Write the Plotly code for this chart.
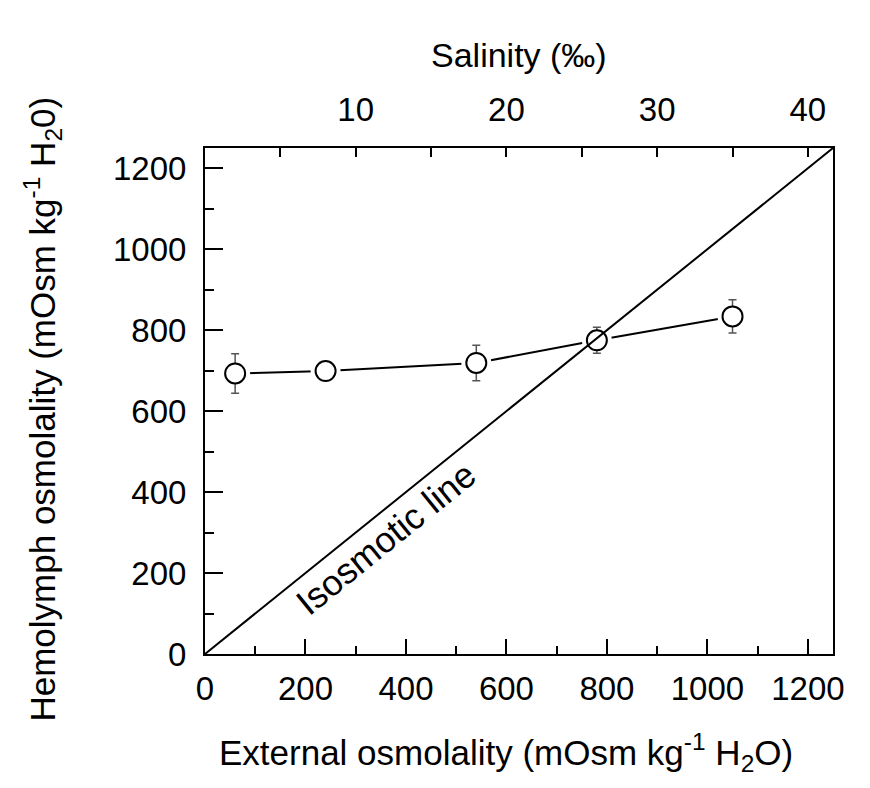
import plotly.graph_objects as go

# Data
external_osm = [60, 240, 540, 780, 1050]
hemolymph_osm = [693, 699, 719, 775, 834]
hemolymph_err = [49, 8, 44, 32, 41]
iso_x = [0, 1250]
iso_y = [0, 1250]
x_ticks = [0, 200, 400, 600, 800, 1000, 1200]
x_minor = [100, 300, 500, 700, 900, 1100]
y_ticks = [0, 200, 400, 600, 800, 1000, 1200]
y_minor = [100, 300, 500, 700, 900, 1100]
sal_ticks = [10, 20, 30, 40]
sal_minor = [5, 15, 25, 35]
mosm_per_ppt = 30.0

FONT = "Arial, Liberation Sans, sans-serif"
fig = go.Figure()

# connecting line
fig.add_trace(go.Scatter(x=external_osm, y=hemolymph_osm, mode="lines",
                         line=dict(color="black", width=2), hoverinfo="skip", showlegend=False))
# gap markers (white halo around circles)
fig.add_trace(go.Scatter(x=external_osm, y=hemolymph_osm, mode="markers",
                         marker=dict(size=30, color="white", line=dict(width=0)),
                         hoverinfo="skip", showlegend=False))
# error bars
fig.add_trace(go.Scatter(x=external_osm, y=hemolymph_osm, mode="markers",
                         marker=dict(size=1, color="white"),
                         error_y=dict(type="data", array=hemolymph_err, visible=True,
                                      color="#555555", thickness=1.5, width=4),
                         hoverinfo="skip", showlegend=False))
# white inner fill to hide error bar inside circles
fig.add_trace(go.Scatter(x=external_osm, y=hemolymph_osm, mode="markers",
                         marker=dict(size=20, color="white", line=dict(width=0)),
                         hoverinfo="skip", showlegend=False))
# isosmotic line
fig.add_trace(go.Scatter(x=iso_x, y=iso_y, mode="lines",
                         line=dict(color="black", width=2), hoverinfo="skip", showlegend=False))
# open circles
fig.add_trace(go.Scatter(x=external_osm, y=hemolymph_osm, mode="markers",
                         marker=dict(size=20, color="rgba(0,0,0,0)", symbol="circle",
                                     line=dict(color="black", width=2)),
                         showlegend=False))
# dummy trace for top axis
fig.add_trace(go.Scatter(x=[0], y=[0], xaxis="x2", mode="markers",
                         marker=dict(size=0, opacity=0), hoverinfo="skip", showlegend=False))

fig.add_annotation(x=360, y=285, text="Isosmotic line", showarrow=False, textangle=-39,
                   font=dict(family=FONT, size=36, color="black"))

# axis titles as annotations
fig.add_annotation(x=0.5, y=1.184, xref="paper", yref="paper", text="Salinity (‰)",
                   showarrow=False, xanchor="center", yanchor="middle",
                   font=dict(family=FONT, size=34, color="black"))
fig.add_annotation(x=0.48, y=-0.194, xref="paper", yref="paper",
                   text="External osmolality (mOsm kg<sup>-1</sup> H<sub>2</sub>O)",
                   showarrow=False, xanchor="center", yanchor="middle",
                   font=dict(family=FONT, size=35, color="black"))
fig.add_annotation(x=-0.258, y=0.485, xref="paper", yref="paper", textangle=-90,
                   text="Hemolymph osmolality (mOsm kg<sup>-1</sup> H<sub>2</sub>0)",
                   showarrow=False, xanchor="center", yanchor="middle",
                   font=dict(family=FONT, size=35, color="black"))

fig.update_layout(
    width=870, height=788,
    margin=dict(l=205, r=37, t=148, b=134),
    paper_bgcolor="white", plot_bgcolor="white",
    font=dict(family=FONT, size=33, color="black"),
    xaxis=dict(range=[0, 1250], tickmode="array", tickvals=x_ticks,
               ticks="inside", ticklen=15, tickwidth=2, tickcolor="black",
               ticklabelstandoff=4, tickfont=dict(size=33),
               minor=dict(tickmode="array", tickvals=x_minor, ticks="inside", ticklen=8,
                          tickwidth=2, tickcolor="black", showgrid=False),
               showline=True, linecolor="black", linewidth=2, mirror=False,
               showgrid=False, zeroline=False),
    xaxis2=dict(range=[0, 1250 / mosm_per_ppt], overlaying="x", side="top",
                tickmode="array", tickvals=sal_ticks,
                ticks="inside", ticklen=9, tickwidth=2, tickcolor="black",
                ticklabelstandoff=12, tickfont=dict(size=33),
                minor=dict(tickmode="array", tickvals=sal_minor, ticks="inside", ticklen=9,
                           tickwidth=2, tickcolor="black", showgrid=False),
                showline=True, linecolor="black", linewidth=2,
                showgrid=False, zeroline=False),
    yaxis=dict(range=[0, 1250], tickmode="array", tickvals=y_ticks,
               ticks="inside", ticklen=18, tickwidth=2, tickcolor="black",
               ticklabelstandoff=10, tickfont=dict(size=33),
               minor=dict(tickmode="array", tickvals=y_minor, ticks="inside", ticklen=9,
                          tickwidth=2, tickcolor="black", showgrid=False),
               showline=True, linecolor="black", linewidth=2, mirror=True,
               showgrid=False, zeroline=False),
)

fig.write_html("out.html")
